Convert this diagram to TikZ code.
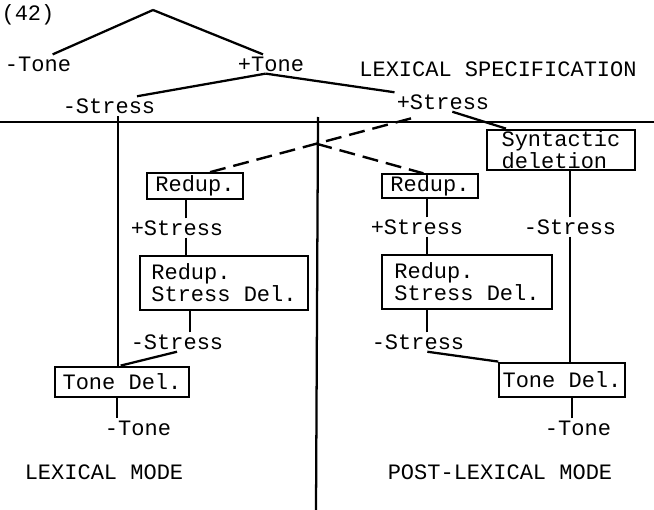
\documentclass[tikz,border=0pt]{standalone}
\usepackage{fontspec}
\setmonofont{Liberation Mono}
\definecolor{Black}{rgb}{0.0,0.0,0.0}
\usepackage{tikz}
\usetikzlibrary{calc}

\begin{document}
\begin{tikzpicture}[x=0.75pt,y=-0.75pt,
    font=\ttfamily\fontsize{16.5}{15}\selectfont,
    box/.style={draw=Black,line width=1.6pt,inner sep=1pt,align=left},
    lbl/.style={inner sep=1.5pt},
    link/.style={Black,line width=1.7pt},
    dashlink/.style={Black,line width=1.8pt,dash pattern=on 12pt off 6pt}]

    \useasboundingbox (0,0) rectangle (654,510);

    \coordinate (A) at (153,10);  % top of the tree

    % feature tree
    \node[lbl] (ex) at (28,15) {(42)};
    \node[lbl] (mtone) at (38,64) {-Tone};
    \node[lbl] (ptone) at (271,64) {+Tone};
    \node[lbl] (lexspec) at (498,69) {LEXICAL SPECIFICATION};
    \node[lbl] (mstress) at (109,106) {-Stress};
    \node[lbl] (pstress) at (443,102) {+Stress};

    \draw[link] (A) -- ([xshift=11pt]mtone.north);
    \draw[link] (A) -- ([xshift=-6pt]ptone.north);
    \draw[link] ([xshift=-4pt]ptone.south) -- ([xshift=21pt]mstress.north);
    \draw[link] ([xshift=-4pt]ptone.south) -- (pstress.north west);

    % dividing lines
    \draw[link] (0,122) -- (654,122);
    \draw[link] (318,117) -- (316,510);

    % boxes
    \node[box,minimum width=111pt,minimum height=30pt] (synt) at (561,150) {Syntactic\\deletion};
    \node[box,minimum width=72pt,minimum height=19pt] (redupL) at (195,186) {Redup.};
    \node[box,minimum width=72pt,minimum height=17pt] (redupR) at (430,186) {Redup.};
    \node[box,minimum width=126pt,minimum height=40pt] (rsdL) at (224,283) {Redup.\\Stress Del.};
    \node[box,minimum width=127pt,minimum height=41pt] (rsdR) at (467,282) {Redup.\\Stress Del.};
    \node[box,minimum width=101pt,minimum height=23pt] (tdL) at (122,382) {Tone Del.};
    \node[box,minimum width=94pt,minimum height=26pt] (tdR) at (562,380) {Tone Del.};

    % labels
    \node[lbl] (plusL) at (177,228) {+Stress};
    \node[lbl] (plusR) at (417,227) {+Stress};
    \node[lbl] (minusR) at (570,227) {-Stress};
    \node[lbl] (minusL2) at (177,342) {-Stress};
    \node[lbl] (minusR2) at (418,342) {-Stress};
    \node[lbl] (mtoneL) at (138,428) {-Tone};
    \node[lbl] (mtoneR) at (578,428) {-Tone};
    \node[lbl] (lexmode) at (104,472) {LEXICAL MODE};
    \node[lbl] (postmode) at (500,472) {POST-LEXICAL MODE};

    % from the specification
    \draw[dashlink] ([xshift=-24pt,yshift=-5pt]pstress.south) -- coordinate[pos=0.47] (fork) ([xshift=11pt]redupL.north);
    \draw[dashlink] (fork) -- ([xshift=-5pt]redupR.north);
    \draw[link] ([xshift=7pt]pstress.south) -- ([xshift=15pt]synt.north west);
    \draw[link] ([xshift=-3pt]tdL.north) -- ([xshift=-3pt]tdL.north |- mstress.south);

    % lexical mode
    \draw[link] ([xshift=7pt]plusL.north) -- ([xshift=7pt]plusL.north |- redupL.south);
    \draw[link] ([xshift=7pt]plusL.south) -- ([xshift=7pt]plusL.south |- rsdL.north);
    \draw[link] ([xshift=10pt]minusL2.north) -- ([xshift=10pt]minusL2.north |- rsdL.south);
    \draw[link] (minusL2.south) -- ([xshift=-1pt]tdL.north);
    \draw[link] ([xshift=-4pt]tdL.south) -- ([xshift=-4pt]tdL.south |- mtoneL.north);

    % post-lexical mode
    \draw[link] ([xshift=7.5pt]plusR.north) -- ([xshift=7.5pt]plusR.north |- redupR.south);
    \draw[link] ([xshift=7.5pt]plusR.south) -- ([xshift=7.5pt]plusR.south |- rsdR.north);
    \draw[link] ([xshift=7pt]minusR2.north) -- ([xshift=7pt]minusR2.north |- rsdR.south);
    \draw[link] ([xshift=7pt]minusR2.south) -- (tdR.north west);
    \draw[link] (minusR.north) -- (minusR.north |- synt.south);
    \draw[link] (minusR.south) -- (minusR.south |- tdR.north);
    \draw[link] ([xshift=-4.5pt]mtoneR.north) -- ([xshift=-4.5pt]mtoneR.north |- tdR.south);

\end{tikzpicture}
\end{document}
